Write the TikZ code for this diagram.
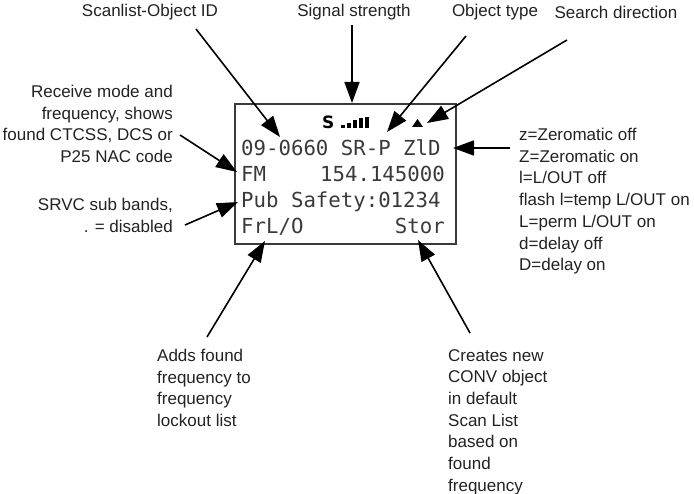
\documentclass[tikz,border=0pt]{standalone}
\usepackage{fontspec}
\setmainfont{Liberation Sans}
\newfontfamily\lcdfont{DejaVu Sans Mono}
\newfontfamily\sigfont{DejaVu Sans}
\usetikzlibrary{arrows.meta}
\definecolor{txt}{HTML}{222222}
\definecolor{lcdc}{HTML}{3A3A3A}
\tikzset{
  lbl/.style={inner sep=0pt, text=txt, font=\fontsize{17}{21.7}\selectfont},
  lcdtxt/.style={inner sep=0pt, text=lcdc, font=\lcdfont\fontsize{20.7}{24}\selectfont},
  pointer/.style={line width=1.6pt, draw=black, -{Triangle[length=21pt,width=15pt]}},
  lcdbox/.style={draw=lcdc, line width=2pt, inner sep=0pt, minimum width=221pt, minimum height=140pt}
}
\begin{document}
\begin{tikzpicture}[x=1pt,y=-1pt]
\useasboundingbox (0,0) rectangle (694,494);
% display
\node[lcdbox, anchor=north west] (lcd) at (234,103) {};
\node[lcdtxt, anchor=base west] (l1) at (241,156) {09-0660 SR-P ZlD};
\node[lcdtxt, anchor=base west] (l2a) at (241,182) {FM};
\node[lcdtxt, anchor=base east] (l2b) at (445,182) {154.145000};
\node[lcdtxt, anchor=base west] (l3) at (241,208) {Pub Safety:01234};
\node[lcdtxt, anchor=base west] (l4a) at (241,234) {FrL/O};
\node[lcdtxt, anchor=base east] (l4b) at (445,234) {Stor};
\node[inner sep=0pt, anchor=base west, text=black, font=\sigfont\bfseries\fontsize{17}{20}\selectfont] (sig) at (322,128.5) {S};
\foreach \i/\h in {0/3,1/5,2/8,3/10,4/11}{
  \fill[black] (341+6*\i,128.5) rectangle ++(4.2,-\h);
}
\fill[black] (412,127) -- (423,127) -- (417.5,119) -- cycle;
% top labels
\node[lbl, anchor=base] (tID) at (150,17) {Scanlist-Object ID};
\node[lbl, anchor=base] (tSig) at (354,17) {Signal strength};
\node[lbl, anchor=base] (tType) at (495,17) {Object type};
\node[lbl, anchor=base] (tDir) at (616,19) {Search direction};
% left labels
\node[lbl, anchor=north east, align=right] (tRx) at (173,85) {Receive mode and\\frequency, shows\\found CTCSS, DCS or\\P25 NAC code};
\node[lbl, anchor=north east, align=right] (tSrvc) at (173,198) {SRVC sub bands,\\. = disabled};
% right legend
\node[lbl, anchor=north west, align=left] (tFlags) at (519,128) {z=Zeromatic off\\Z=Zeromatic on\\l=L/OUT off\\flash l=temp L/OUT on\\L=perm L/OUT on\\d=delay off\\D=delay on};
% bottom labels
\node[lbl, anchor=north west, align=left] (tAdd) at (157,349) {Adds found\\frequency to\\frequency\\lockout list};
\node[lbl, anchor=north west, align=left] (tCre) at (448,349) {Creates new\\CONV object\\in default\\Scan List\\based on\\found\\frequency};
% connector ends
\coordinate (sID) at (196,29);   \coordinate (eID) at (280,137);
\coordinate (sSig) at (352,25);  \coordinate (eSig) at (352,103);
\coordinate (sType) at (466,36); \coordinate (eType) at (387,132);
\coordinate (sDir) at (567,40);  \coordinate (eDir) at (427,123);
\coordinate (sRx) at (180,135);  \coordinate (eRx) at (237,172);
\coordinate (sSrvc) at (185,225);\coordinate (eSrvc) at (238,202);
\coordinate (sFlags) at (510,148);\coordinate (eFlags) at (453,148);
\coordinate (sAdd) at (207,337); \coordinate (eAdd) at (265,241);
\coordinate (sCre) at (470,333); \coordinate (eCre) at (418,240);
\foreach \n in {ID,Sig,Type,Dir,Rx,Srvc,Flags,Add,Cre}{
  \draw[pointer] (s\n) -- (e\n);
}
\end{tikzpicture}
\end{document}
